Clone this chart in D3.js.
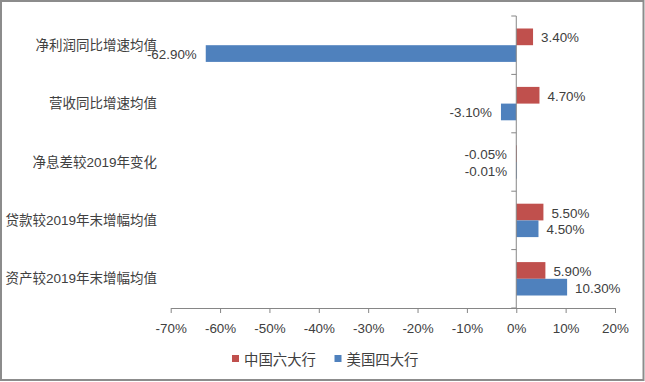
<!DOCTYPE html>
<html>
<head>
<meta charset="utf-8">
<script src="https://cdn.jsdelivr.net/npm/d3@7"></script>
<style>
  html, body { margin: 0; padding: 0; background: #fff; }
  svg { display: block; }
  .num { font-family: "Liberation Sans", Arial, sans-serif; font-size: 13.4px; fill: #404040; }
  .cat { font-family: "Liberation Sans", "Noto Sans CJK SC", sans-serif; font-size: 13.5px; fill: #404040; }
  .leg { font-family: "Noto Sans CJK SC", sans-serif; font-size: 14.4px; fill: #404040; }
</style>
</head>
<body>
<svg id="chart" width="645" height="382"></svg>
<script>
// Categories, top to bottom
const categories = [
  "净利润同比增速均值",
  "营收同比增速均值",
  "净息差较2019年变化",
  "贷款较2019年末增幅均值",
  "资产较2019年末增幅均值"
];
const seriesNames = ["中国六大行", "美国四大行"];
// Values in percent
const chinaSix = [3.40, 4.70, -0.05, 5.50, 5.90];
const usFour = [-62.90, -3.10, -0.01, 4.50, 10.30];
const xTicks = [-70, -60, -50, -40, -30, -20, -10, 0, 10, 20];
const colors = ["#C0504D", "#4F81BD"];

const svg = d3.select("#chart");
const W = 645, H = 382;

// outer frame
svg.append("rect")
  .attr("x", 1).attr("y", 1)
  .attr("width", W - 2.5).attr("height", H - 3)
  .attr("fill", "#fff")
  .attr("stroke", "#8c8c8c")
  .attr("stroke-width", 2);

const x = d3.scaleLinear().domain([-70, 20]).range([170.7, 615]);
const y = d3.scaleBand().domain(categories).range([16, 308]).padding(0);
const gapRatio = 0.428;
const inner = d3.scaleBand()
  .domain(seriesNames)
  .range([y.bandwidth() * gapRatio / 2, y.bandwidth() * (1 - gapRatio / 2)])
  .padding(0);

const rows = categories.map((c, i) => ({ cat: c, values: [chinaSix[i], usFour[i]] }));

// bars
const groups = svg.append("g").selectAll("g")
  .data(rows).join("g")
  .attr("transform", d => `translate(0,${y(d.cat)})`);

groups.selectAll("rect")
  .data(d => d.values.map((v, k) => ({ v, k, name: seriesNames[k] })))
  .join("rect")
  .attr("x", d => Math.min(x(0), x(d.v)))
  .attr("y", d => inner(d.name))
  .attr("width", d => Math.max(Math.abs(x(d.v) - x(0)), 0.8))
  .attr("height", inner.bandwidth())
  .attr("fill", d => colors[d.k]);

// value labels
groups.selectAll("text")
  .data(d => d.values.map((v, k) => ({ v, k, name: seriesNames[k] })))
  .join("text")
  .attr("class", "num")
  .attr("x", d => d.v >= 0 ? x(d.v) + 8 : x(d.v) - 9)
  .attr("y", d => inner(d.name) + inner.bandwidth() / 2 + 1)
  .attr("dominant-baseline", "central")
  .attr("text-anchor", d => d.v >= 0 ? "start" : "end")
  .text(d => d.v.toFixed(2) + "%");

// horizontal value axis
const xAxis = d3.axisBottom(x)
  .tickValues(xTicks)
  .tickSize(5)
  .tickSizeOuter(0)
  .tickFormat(d => d + "%");
const gx = svg.append("g").attr("transform", "translate(0,308)").call(xAxis);
gx.select(".domain").attr("stroke", "#868686");
gx.selectAll(".tick line").attr("stroke", "#868686");
gx.selectAll(".tick text")
  .attr("class", "num")
  .attr("font-family", null).attr("font-size", null)
  .attr("fill", null)
  .attr("y", 0).attr("dy", null)
  .attr("transform", "translate(0,20)")
  .attr("dominant-baseline", "central");

// vertical category axis at zero
const yEdges = categories.map(c => y(c)).concat([y.range()[1]]);
const gy = svg.append("g");
gy.append("line")
  .attr("x1", x(0)).attr("x2", x(0))
  .attr("y1", y.range()[0]).attr("y2", y.range()[1])
  .attr("stroke", "#868686");
gy.selectAll("line.tk").data(yEdges).join("line")
  .attr("class", "tk")
  .attr("x1", x(0) - 5).attr("x2", x(0))
  .attr("y1", d => d).attr("y2", d => d)
  .attr("stroke", "#868686");

// category labels
svg.append("g").selectAll("text")
  .data(categories).join("text")
  .attr("class", "cat")
  .attr("x", 157)
  .attr("y", d => y(d) + y.bandwidth() / 2)
  .attr("text-anchor", "end")
  .attr("dominant-baseline", "central")
  .text(d => d);

// legend
const legX = [232, 334.5];
const leg = svg.append("g").selectAll("g")
  .data(seriesNames).join("g")
  .attr("transform", (d, i) => `translate(${legX[i]},355)`);
leg.append("rect").attr("width", 7).attr("height", 7)
  .attr("fill", (d, i) => colors[i]);
leg.append("text")
  .attr("class", "leg")
  .attr("x", 12).attr("y", 3.5)
  .attr("dominant-baseline", "central")
  .text(d => d);
</script>
</body>
</html>
